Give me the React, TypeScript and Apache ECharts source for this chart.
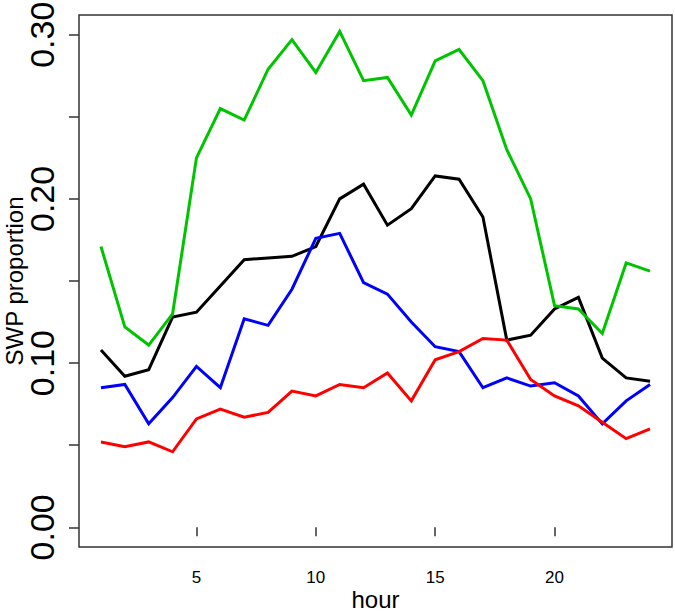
import React, { useEffect, useRef } from "react";
import * as echarts from "echarts";

const hours = [1, 2, 3, 4, 5, 6, 7, 8, 9, 10, 11, 12, 13, 14, 15, 16, 17, 18, 19, 20, 21, 22, 23, 24];
const blackSeries = [0.108, 0.092, 0.096, 0.128, 0.131, 0.147, 0.163, 0.164, 0.165, 0.171, 0.200, 0.209, 0.184, 0.194, 0.214, 0.212, 0.189, 0.114, 0.117, 0.133, 0.140, 0.103, 0.091, 0.089];
const greenSeries = [0.171, 0.122, 0.111, 0.130, 0.225, 0.255, 0.248, 0.279, 0.297, 0.277, 0.302, 0.272, 0.274, 0.251, 0.284, 0.291, 0.272, 0.230, 0.200, 0.135, 0.133, 0.118, 0.161, 0.156];
const blueSeries = [0.085, 0.087, 0.063, 0.079, 0.098, 0.085, 0.127, 0.123, 0.145, 0.176, 0.179, 0.149, 0.142, 0.125, 0.110, 0.107, 0.085, 0.091, 0.086, 0.088, 0.080, 0.063, 0.077, 0.087];
const redSeries = [0.052, 0.049, 0.052, 0.046, 0.066, 0.072, 0.067, 0.070, 0.083, 0.080, 0.087, 0.085, 0.094, 0.077, 0.102, 0.107, 0.115, 0.114, 0.090, 0.080, 0.074, 0.064, 0.054, 0.060];

const xTicks = [5, 10, 15, 20];
const yLabelTicks = [0, 0.1, 0.2, 0.3];
const yMinorTicks = [0, 0.05, 0.1, 0.15, 0.2, 0.25, 0.3];

const FONT = "'Liberation Sans', Arial, sans-serif";

export default function App() {
  const ref = useRef<HTMLDivElement>(null);
  useEffect(() => {
    if (!ref.current) return;
    const chart = echarts.init(ref.current, undefined, { renderer: "svg" });
    const mk = (vals: number[], color: string) => ({
      type: "line",
      data: hours.map((h, i) => [h, vals[i]]),
      showSymbol: false,
      symbol: "none",
      lineStyle: { color, width: 3, join: "miter" },
      itemStyle: { color },
      silent: true,
    });
    chart.setOption({
      animation: false,
      backgroundColor: "#ffffff",
      textStyle: { fontFamily: FONT },
      grid: {
        left: 79,
        right: 3,
        top: 15,
        bottom: 66,
        show: true,
        containLabel: false,
        outerBoundsMode: "none",
        borderColor: "#333333",
        borderWidth: 1.5,
        backgroundColor: "transparent",
      },
      xAxis: {
        type: "value",
        min: 0.08,
        max: 24.92,
        name: "hour",
        nameLocation: "middle",
        nameGap: 40,
        nameMoveOverlap: false,
        nameTextStyle: { fontSize: 24, color: "#000", fontFamily: FONT },
        splitLine: { show: false },
        axisLine: { show: false },
        axisTick: {
          show: true,
          inside: false,
          length: 9,
          customValues: xTicks,
          lineStyle: { color: "#333333", width: 1.5 },
        },
        axisLabel: {
          show: true,
          customValues: xTicks,
          fontSize: 17,
          color: "#000",
          margin: 22,
          fontFamily: FONT,
        },
      },
      yAxis: {
        type: "value",
        min: -0.012,
        max: 0.312,
        name: "SWP proportion",
        nameLocation: "middle",
        nameGap: 53,
        nameMoveOverlap: false,
        nameTextStyle: { fontSize: 24, color: "#000", fontFamily: FONT },
        splitLine: { show: false },
        axisLine: { show: false },
        axisTick: {
          show: true,
          inside: false,
          length: 10,
          customValues: yMinorTicks,
          lineStyle: { color: "#333333", width: 1.5 },
        },
        axisLabel: {
          show: true,
          customValues: yLabelTicks,
          rotate: 90,
          fontSize: 34,
          color: "#000",
          margin: 20,
          fontFamily: FONT,
          formatter: (v: number) => v.toFixed(2),
        },
      },
      series: [
        mk(blackSeries, "#000000"),
        mk(greenSeries, "#00c400"),
        mk(blueSeries, "#0000ff"),
        mk(redSeries, "#ff0000"),
      ],
    });
    return () => chart.dispose();
  }, []);
  return (
    <div
      ref={ref}
      style={{ position: "fixed", left: 0, top: 0, width: 675, height: 613, background: "#fff" }}
    />
  );
}
